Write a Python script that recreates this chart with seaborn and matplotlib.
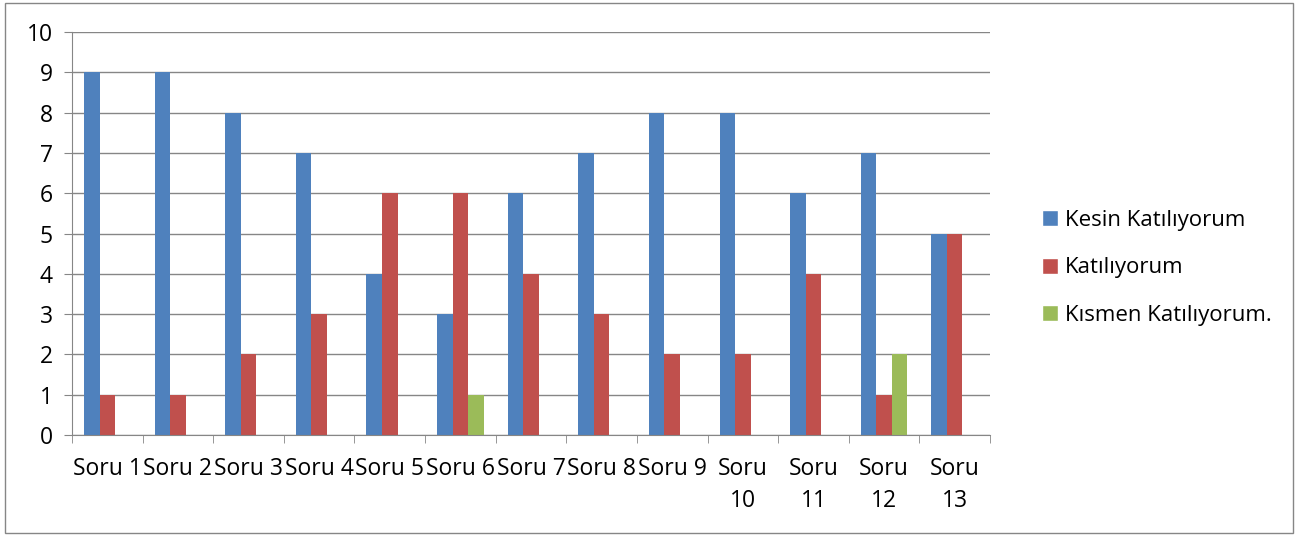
import matplotlib
matplotlib.use('Agg')
import matplotlib.pyplot as plt
import seaborn as sns
import pandas as pd
import numpy as np
from matplotlib.patches import Rectangle
from matplotlib.lines import Line2D

sns.set_style("white")
plt.rcParams['font.family'] = ['Open Sans', 'DejaVu Sans']
plt.rcParams['text.color'] = 'black'
plt.rcParams['xtick.color'] = 'black'
plt.rcParams['ytick.color'] = 'black'

questions = ['Soru 1', 'Soru 2', 'Soru 3', 'Soru 4', 'Soru 5', 'Soru 6', 'Soru 7',
             'Soru 8', 'Soru 9', 'Soru\n10', 'Soru\n11', 'Soru\n12', 'Soru\n13']
series_names = ['Kesin Katılıyorum', 'Katılıyorum', 'Kısmen Katılıyorum.']
kesin = [9, 9, 8, 7, 4, 3, 6, 7, 8, 8, 6, 7, 5]
katiliyorum = [1, 1, 2, 3, 6, 6, 4, 3, 2, 2, 4, 1, 5]
kismen = [0, 0, 0, 0, 0, 1, 0, 0, 0, 0, 0, 2, 0]
colors = ['#4F81BD', '#C0504D', '#9BBB59']

df = pd.DataFrame({
    'soru': questions * 3,
    'seri': np.repeat(series_names, len(questions)),
    'deger': kesin + katiliyorum + kismen,
})

fig = plt.figure(figsize=(12.98, 5.36), dpi=100)
ax = fig.add_axes([0.0555, 0.1884, 0.7072, 0.7519])
sns.barplot(data=df, x='soru', y='deger', hue='seri', hue_order=series_names,
            palette=colors, width=0.66, ax=ax, saturation=1, legend=False, linewidth=0)

ax.set_ylim(0, 10)
ax.set_xlim(-0.5, len(questions) - 0.5)
ax.set_yticks(range(0, 11))
ax.yaxis.grid(True, color='#868686', linewidth=1)
ax.set_axisbelow(True)
ax.set_xlabel('')
ax.set_ylabel('')
for s in ['top', 'right']:
    ax.spines[s].set_visible(False)
for s in ['left', 'bottom']:
    ax.spines[s].set_color('#868686')
ax.set_xticks(range(len(questions)))
ax.set_xticklabels(questions, fontsize=16.5, linespacing=1.45)
ax.set_xticks(np.arange(-0.5, len(questions)), minor=True)
ax.tick_params(axis='x', which='major', length=0, pad=16)
ax.tick_params(axis='x', which='minor', length=6, color='#868686', direction='out', bottom=True)
ax.tick_params(axis='y', length=6, color='#868686', direction='out', left=True, labelsize=16.5, pad=8)

handles = [Line2D([0], [0], marker='s', color='w', markerfacecolor=c, markersize=11, linestyle='')
           for c in colors]
fig.legend(handles, series_names, loc='center left', bbox_to_anchor=(0.786, 0.5),
           frameon=False, fontsize=16, labelspacing=1.2, handletextpad=0.2, handlelength=0.9)

fig.patches.append(Rectangle((0.004, 0.006), 0.992, 0.988, transform=fig.transFigure,
                             fill=False, edgecolor='#868686', linewidth=1))

plt.savefig('out.png', dpi=100)
